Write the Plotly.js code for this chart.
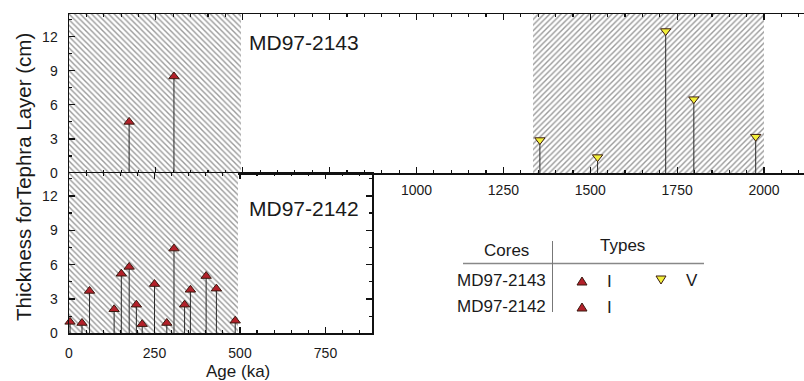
<!DOCTYPE html>
<html><head><meta charset="utf-8">
<script src="https://cdn.plot.ly/plotly-3.0.1.min.js"></script>
<style>html,body{margin:0;padding:0;background:#fff}#chart{width:804px;height:381px}</style>
</head><body><div id="chart"></div>
<script>
// ---- data ----
const core2143Label = "MD97-2143";
const core2142Label = "MD97-2142";
// MD97-2143, type I (red, triangle up)
const c2143_I_age = [173, 302];
const c2143_I_thk = [4.5, 8.5];
// MD97-2143, type V (yellow, triangle down)
const c2143_V_age = [1355, 1521, 1717, 1798, 1976];
const c2143_V_thk = [2.9, 1.4, 12.5, 6.5, 3.2];
// MD97-2142, type I
const c2142_I_age = [3, 38, 60, 132, 153, 176, 197, 214, 250, 286, 307, 338, 355, 401, 431, 486];
const c2142_I_thk = [1.0, 0.9, 3.7, 2.1, 5.2, 5.8, 2.5, 0.8, 4.3, 0.9, 7.4, 2.5, 3.8, 5.0, 3.9, 1.1];
// hatched intervals (ka)
const hatchTopStart = [0, 1335];
const hatchTopEnd = [495, 2000];
const hatchBotStart = [0];
const hatchBotEnd = [495];
const topTickVals = [0, 250, 500, 750, 1000, 1250, 1500, 1750, 2000];
const topTickText = ["", "", "", "", "1000", "1250", "1500", "1750", "2000"];
const botTickVals = [0, 250, 500, 750];
const yTickVals = [0, 3, 6, 9, 12];

// ---- layout helpers ----
const W = 804, H = 381;
const px = x => x / W;
const py = y => 1 - y / H;
const YMAX = 14;
const FONT = "Liberation Sans, Arial, sans-serif";
const TXT = "#1a1a1a";

function hatchTrace(starts, ends, shape, xa, ya) {
  return {
    type: "bar", xaxis: xa, yaxis: ya,
    x: starts.map((s, i) => (s + ends[i]) / 2),
    width: starts.map((s, i) => ends[i] - s),
    y: starts.map(() => YMAX), base: 0,
    marker: { color: "white", line: { width: 0 },
      pattern: { shape: shape, fgcolor: "#9a9a9a", bgcolor: "white", size: 4, solidity: 0.35 } },
    hoverinfo: "skip", showlegend: false
  };
}
function stemTrace(ages, vals, symbol, color, xa, ya) {
  return {
    type: "scatter", mode: "markers", xaxis: xa, yaxis: ya,
    x: ages, y: vals,
    marker: { symbol: symbol, size: 9, color: color, line: { color: "#3a1a10", width: 1 } },
    error_y: { type: "data", symmetric: false, array: vals.map(() => 0), arrayminus: vals,
      width: 0, thickness: 1, color: "#2a2a2a" },
    cliponaxis: false, showlegend: false, hoverinfo: "skip"
  };
}
const RED = "#b3202a", YEL = "#f2f03a";

const traces = [
  hatchTrace(hatchTopStart.slice(0, 1), hatchTopEnd.slice(0, 1), "\\", "x", "y"),
  hatchTrace(hatchTopStart.slice(1), hatchTopEnd.slice(1), "/", "x", "y"),
  hatchTrace(hatchBotStart, hatchBotEnd, "\\", "x2", "y2"),
  stemTrace(c2143_I_age, c2143_I_thk, "triangle-up", RED, "x", "y"),
  stemTrace(c2143_V_age, c2143_V_thk, "triangle-down", YEL, "x", "y"),
  stemTrace(c2142_I_age, c2142_I_thk, "triangle-up", RED, "x2", "y2")
];

const axisCommon = {
  showgrid: false, zeroline: false, showline: true, linecolor: "#111", linewidth: 1.5,
  mirror: "ticks", ticks: "inside", ticklen: 6, tickwidth: 1.2, tickcolor: "#111",
  tickfont: { family: FONT, size: 14, color: TXT }, fixedrange: true
};

const layout = {
  width: W, height: H,
  margin: { l: 0, r: 0, t: 0, b: 0 },
  paper_bgcolor: "white", plot_bgcolor: "rgba(0,0,0,0)",
  showlegend: false, barmode: "overlay", bargap: 0, hovermode: false,
  xaxis: Object.assign({}, axisCommon, {
    domain: [px(69), 1], range: [0, 2115], anchor: "y",
    tickmode: "array", tickvals: topTickVals, ticktext: topTickText, ticklabelstandoff: 4,
    minor: { tickmode: "linear", tick0: 0, dtick: 50, ticks: "inside", ticklen: 3, tickcolor: "#111" }
  }),
  yaxis: Object.assign({}, axisCommon, {
    domain: [py(173), py(14)], range: [0, YMAX], anchor: "x", mirror: false,
    tickmode: "array", tickvals: yTickVals, ticklabelstandoff: 7,
    minor: { tickmode: "linear", tick0: 0, dtick: 1.5, ticks: "inside", ticklen: 3, tickcolor: "#111" }
  }),
  xaxis2: Object.assign({}, axisCommon, {
    domain: [px(69), px(372)], range: [0, 886], anchor: "y2",
    tickmode: "array", tickvals: botTickVals, ticklabelstandoff: 6,
    minor: { tickmode: "linear", tick0: 0, dtick: 50, ticks: "inside", ticklen: 3, tickcolor: "#111" }
  }),
  yaxis2: Object.assign({}, axisCommon, {
    domain: [py(333.3), py(173)], range: [0, YMAX], anchor: "x2",
    tickmode: "array", tickvals: yTickVals, ticklabelstandoff: 7,
    minor: { tickmode: "linear", tick0: 0, dtick: 1.5, ticks: "inside", ticklen: 3, tickcolor: "#111" }
  }),
  annotations: [],
  shapes: []
};

function ann(text, x, y, size, opts) {
  layout.annotations.push(Object.assign({
    text: text, xref: "paper", yref: "paper", x: px(x), y: py(y),
    showarrow: false, font: { family: FONT, size: size, color: TXT },
    xanchor: "center", yanchor: "middle"
  }, opts || {}));
}
// panel labels
ann(core2143Label, 247, 42, 21, { xanchor: "left" });
ann(core2142Label, 247, 208, 21, { xanchor: "left" });
// axis titles
ann("Age (ka)", 238, 371, 17);
ann("Thickness forTephra Layer (cm)", 23, 177, 20.5, { textangle: -90 });

// legend table
ann("Cores", 506, 250, 17);
ann("Types", 622, 245, 17);
ann(core2143Label, 548, 280, 17, { xanchor: "right" });
ann(core2142Label, 548, 306, 17, { xanchor: "right" });
ann("I", 609, 281, 17);
ann("V", 692, 280, 17);
ann("I", 609, 307, 17);
layout.shapes.push({ type: "line", xref: "paper", yref: "paper", x0: px(463), x1: px(704), y0: py(263.5), y1: py(263.5), line: { color: "#888", width: 1.5 } });
layout.shapes.push({ type: "line", xref: "paper", yref: "paper", x0: px(552.5), x1: px(552.5), y0: py(241), y1: py(312), line: { color: "#777", width: 1 } });
function tri(cx, cy, up, fill) {
  const hw = 5, hh = 4;
  let p;
  if (up) p = `M${px(cx - hw)},${py(cy + hh)} L${px(cx + hw)},${py(cy + hh)} L${px(cx)},${py(cy - hh)} Z`;
  else p = `M${px(cx - hw)},${py(cy - hh)} L${px(cx + hw)},${py(cy - hh)} L${px(cx)},${py(cy + hh)} Z`;
  layout.shapes.push({ type: "path", xref: "paper", yref: "paper", path: p, fillcolor: fill, line: { color: "#3a1a10", width: 1 } });
}
tri(582, 281, true, RED);
tri(661, 280, false, YEL);
tri(582, 307, true, RED);

Plotly.newPlot("chart", traces, layout, { staticPlot: true, displayModeBar: false });
</script>
</body></html>
